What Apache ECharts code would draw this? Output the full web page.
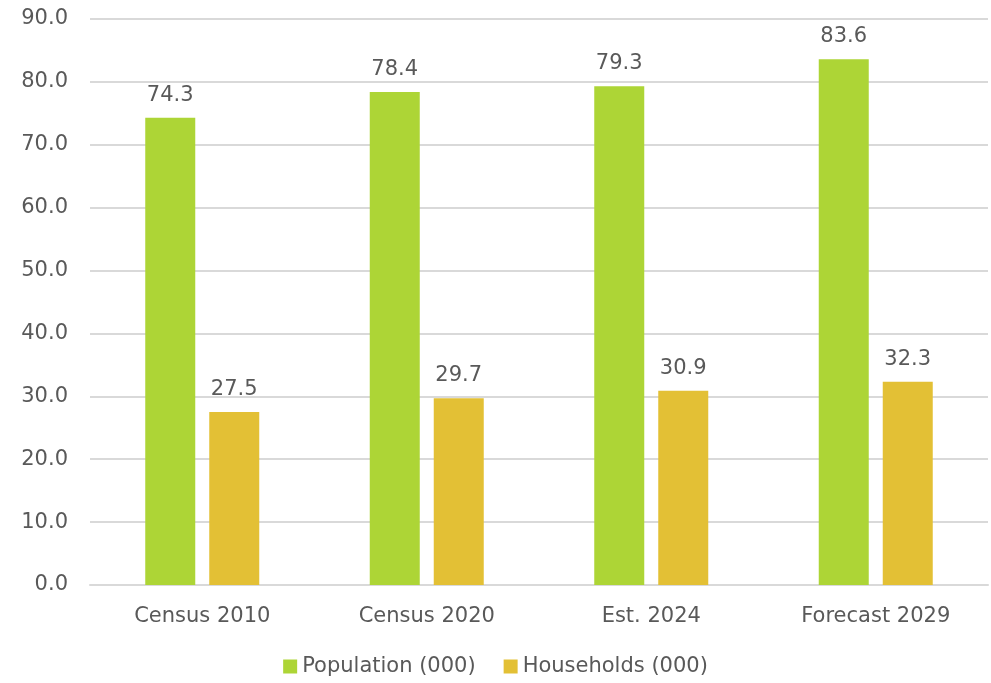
<!DOCTYPE html>
<html>
<head>
<meta charset="utf-8">
<script src="https://cdn.jsdelivr.net/npm/echarts@6/dist/echarts.min.js"></script>
<style>
  html, body { margin: 0; padding: 0; background: #fff; }
  #chart { width: 991px; height: 683px; }
</style>
</head>
<body>
<div id="chart"></div>
<script>
// categories and series values
var categories = ['Census 2010', 'Census 2020', 'Est. 2024', 'Forecast 2029'];
var population = [74.3, 78.4, 79.3, 83.6];
var households = [27.5, 29.7, 30.9, 32.3];

var textColor = '#595959';
var font = '"DejaVu Sans", sans-serif';

var chart = echarts.init(document.getElementById('chart'));
var option = {
  animation: false,
  textStyle: { fontFamily: font, color: textColor },
  grid: { left: 90, right: 3, top: 19, bottom: 98 },
  legend: {
    bottom: 1,
    left: 'center',
    itemWidth: 14,
    itemHeight: 14,
    itemGap: 28,
    icon: 'rect',
    textStyle: { fontSize: 21, color: textColor, fontFamily: font },
    data: ['Population (000)', 'Households (000)']
  },
  xAxis: {
    type: 'category',
    data: categories,
    axisLine: { lineStyle: { color: '#d9d9d9', width: 2 } },
    axisTick: { show: false },
    axisLabel: { fontSize: 21, color: textColor, margin: 21, fontFamily: font }
  },
  yAxis: {
    type: 'value',
    min: 0,
    max: 90,
    interval: 10,
    axisLine: { show: false },
    axisTick: { show: false },
    splitLine: { lineStyle: { color: '#d9d9d9', width: 2 } },
    axisLabel: {
      fontSize: 21, color: textColor, margin: 22, fontFamily: font,
      formatter: function (v) { return v.toFixed(1); }
    }
  },
  series: [
    {
      name: 'Population (000)',
      type: 'bar',
      data: population,
      barWidth: 50,
      barGap: '28%',
      itemStyle: { color: '#add536' },
      label: {
        show: true, position: 'top', distance: 12, fontSize: 21, color: textColor, fontFamily: font,
        formatter: function (p) { return p.value.toFixed(1); }
      }
    },
    {
      name: 'Households (000)',
      type: 'bar',
      data: households,
      barWidth: 50,
      itemStyle: { color: '#e3c035' },
      label: {
        show: true, position: 'top', distance: 12, fontSize: 21, color: textColor, fontFamily: font,
        formatter: function (p) { return p.value.toFixed(1); }
      }
    }
  ]
};
chart.setOption(option);
</script>
</body>
</html>
